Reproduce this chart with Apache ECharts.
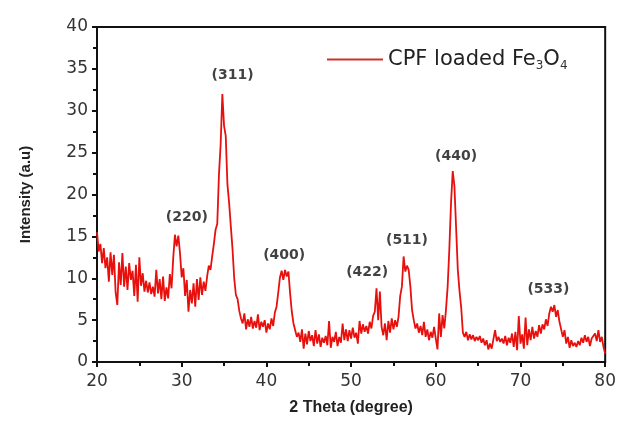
<!DOCTYPE html>
<html>
<head>
<meta charset="utf-8">
<title>XRD pattern - CPF loaded Fe3O4</title>
<script src="https://cdn.jsdelivr.net/npm/echarts@6/dist/echarts.min.js"></script>
<style>
  html, body { margin: 0; padding: 0; background: #fff; }
  #chart { width: 619px; height: 421px; }
</style>
</head>
<body>
<div id="chart"></div>
<script>
// XRD pattern: [2 theta, intensity]
const pattern = [
  [20.0, 15.5], [20.2, 13.2], [20.4, 14.1], [20.6, 11.8], [20.8, 13.6],
  [21.0, 11.2], [21.2, 12.5], [21.4, 9.6], [21.6, 13.1], [21.8, 10.4],
  [22.0, 12.8], [22.2, 8.3], [22.4, 6.8], [22.6, 11.9], [22.8, 9.2],
  [23.0, 13.0], [23.2, 9.0], [23.4, 11.4], [23.6, 8.6], [23.8, 11.8],
  [24.0, 9.8], [24.2, 10.9], [24.4, 7.9], [24.6, 11.6], [24.8, 7.2],
  [25.0, 12.5], [25.2, 9.1], [25.4, 10.6], [25.6, 8.4], [25.8, 9.7],
  [26.0, 8.3], [26.2, 9.5], [26.4, 8.1], [26.6, 9.0], [26.8, 7.8],
  [27.0, 11.0], [27.2, 8.2], [27.4, 9.9], [27.6, 7.5], [27.8, 10.2],
  [28.0, 7.3], [28.2, 8.9], [28.4, 7.6], [28.6, 10.5], [28.8, 8.8],
  [29.0, 12.4], [29.2, 15.2], [29.4, 13.8], [29.6, 15.1], [29.8, 13.0],
  [30.0, 10.1], [30.2, 11.2], [30.4, 7.9], [30.6, 9.8], [30.8, 6.0],
  [31.0, 8.6], [31.2, 7.0], [31.4, 9.4], [31.6, 6.6], [31.8, 9.9],
  [32.0, 7.4], [32.2, 10.1], [32.4, 8.0], [32.6, 9.6], [32.8, 8.5],
  [33.0, 10.2], [33.2, 11.5], [33.4, 11.0], [33.6, 12.6], [33.8, 14.1],
  [34.0, 15.8], [34.2, 16.5], [34.4, 22.4], [34.6, 26.0], [34.8, 32.0],
  [35.0, 28.2], [35.2, 27.0], [35.4, 21.2], [35.6, 19.0], [35.8, 16.2],
  [36.0, 13.5], [36.2, 10.0], [36.4, 8.0], [36.6, 7.5], [36.8, 6.1],
  [37.0, 5.2], [37.2, 4.6], [37.4, 5.8], [37.6, 3.9], [37.8, 5.1],
  [38.0, 4.2], [38.2, 5.4], [38.4, 4.0], [38.6, 4.9], [38.8, 4.1],
  [39.0, 5.7], [39.2, 3.8], [39.4, 4.8], [39.6, 4.2], [39.8, 5.0],
  [40.0, 3.5], [40.2, 4.6], [40.4, 3.9], [40.6, 5.2], [40.8, 4.3],
  [41.0, 5.9], [41.2, 6.6], [41.4, 8.3], [41.6, 10.1], [41.8, 10.9],
  [42.0, 9.8], [42.2, 11.0], [42.4, 10.2], [42.6, 10.8], [42.8, 8.2],
  [43.0, 6.0], [43.2, 4.6], [43.4, 3.8], [43.6, 3.0], [43.8, 3.5],
  [44.0, 2.4], [44.2, 3.9], [44.4, 1.6], [44.6, 3.4], [44.8, 2.1],
  [45.0, 3.7], [45.2, 2.5], [45.4, 3.2], [45.6, 1.9], [45.8, 3.8],
  [46.0, 2.2], [46.2, 3.3], [46.4, 1.8], [46.6, 2.9], [46.8, 2.3],
  [47.0, 3.1], [47.2, 2.0], [47.4, 4.9], [47.6, 1.7], [47.8, 3.0],
  [48.0, 2.4], [48.2, 3.6], [48.4, 1.9], [48.6, 3.0], [48.8, 2.3],
  [49.0, 4.6], [49.2, 2.6], [49.4, 3.9], [49.6, 2.5], [49.8, 3.8],
  [50.0, 2.8], [50.2, 4.1], [50.4, 2.9], [50.6, 3.5], [50.8, 2.2],
  [51.0, 4.9], [51.2, 3.4], [51.4, 4.5], [51.6, 3.6], [51.8, 4.3],
  [52.0, 3.4], [52.2, 4.8], [52.4, 4.0], [52.6, 5.5], [52.8, 6.0],
  [53.0, 8.8], [53.2, 5.0], [53.4, 8.4], [53.6, 4.2], [53.8, 3.2],
  [54.0, 4.6], [54.2, 2.6], [54.4, 4.9], [54.6, 3.5], [54.8, 5.2],
  [55.0, 3.9], [55.2, 5.0], [55.4, 4.2], [55.6, 5.4], [55.8, 7.9],
  [56.0, 9.0], [56.2, 12.6], [56.4, 10.8], [56.6, 11.5], [56.8, 11.0],
  [57.0, 9.0], [57.2, 6.2], [57.4, 5.0], [57.6, 4.0], [57.8, 4.6],
  [58.0, 3.5], [58.2, 4.3], [58.4, 3.2], [58.6, 4.8], [58.8, 3.0],
  [59.0, 3.9], [59.2, 2.6], [59.4, 3.6], [59.6, 2.9], [59.8, 4.2],
  [60.0, 2.8], [60.2, 1.5], [60.4, 5.8], [60.6, 3.0], [60.8, 5.6],
  [61.0, 4.0], [61.2, 6.2], [61.4, 9.0], [61.6, 13.5], [61.8, 19.0],
  [62.0, 22.8], [62.2, 21.0], [62.4, 16.0], [62.6, 11.0], [62.8, 8.5],
  [63.0, 6.5], [63.2, 3.5], [63.4, 3.0], [63.6, 3.6], [63.8, 2.6],
  [64.0, 3.3], [64.2, 2.7], [64.4, 3.2], [64.6, 2.5], [64.8, 3.0],
  [65.0, 2.6], [65.2, 3.1], [65.4, 2.3], [65.6, 2.8], [65.8, 2.0],
  [66.0, 2.6], [66.2, 1.5], [66.4, 2.2], [66.6, 1.6], [66.8, 2.7],
  [67.0, 3.8], [67.2, 2.5], [67.4, 3.0], [67.6, 2.4], [67.8, 2.8],
  [68.0, 2.2], [68.2, 3.1], [68.4, 2.0], [68.6, 2.9], [68.8, 2.3],
  [69.0, 3.4], [69.2, 1.8], [69.4, 3.6], [69.6, 1.4], [69.8, 5.5],
  [70.0, 2.2], [70.2, 3.3], [70.4, 1.6], [70.6, 5.3], [70.8, 2.0],
  [71.0, 3.9], [71.2, 2.6], [71.4, 4.2], [71.6, 2.8], [71.8, 3.7],
  [72.0, 3.0], [72.2, 4.4], [72.4, 3.4], [72.6, 4.5], [72.8, 3.9],
  [73.0, 5.1], [73.2, 4.3], [73.4, 5.8], [73.6, 6.6], [73.8, 6.0],
  [74.0, 6.8], [74.2, 5.4], [74.4, 6.2], [74.6, 4.8], [74.8, 4.6],
  [75.0, 3.0], [75.2, 3.8], [75.4, 2.2], [75.6, 3.0], [75.8, 1.7],
  [76.0, 2.6], [76.2, 1.9], [76.4, 2.3], [76.6, 1.8], [76.8, 2.5],
  [77.0, 2.0], [77.2, 2.9], [77.4, 2.3], [77.6, 3.2], [77.8, 2.4],
  [78.0, 3.0], [78.2, 1.9], [78.4, 2.8], [78.6, 2.6], [78.8, 3.4],
  [79.0, 2.5], [79.2, 3.8], [79.4, 2.4], [79.6, 3.0], [79.8, 1.8],
  [80.0, 1.0]
];

// Miller indices and where their labels sit (data coords)
const peakNames = ['(220)', '(311)', '(400)', '(422)', '(511)', '(440)', '(533)'];
const peakX = [30.6, 36.0, 42.1, 51.9, 56.6, 62.4, 73.3];
const peakY = [17.3, 34.2, 12.7, 10.7, 14.5, 24.6, 8.7];

const xTicks = [20, 30, 40, 50, 60, 70, 80];
const yTicks = [0, 5, 10, 15, 20, 25, 30, 35, 40];

const FONT = '"DejaVu Sans", "Liberation Sans", Arial, sans-serif';
const TITLE_FONT = '"Liberation Sans", Arial, sans-serif';
const RED = '#e8100c';

const chart = echarts.init(document.getElementById('chart'));

const option = {
  animation: false,
  backgroundColor: '#fff',
  // border of the grid gives the closed frame (top and right sides)
  grid: {
    left: 97, right: 12, top: 27, bottom: 58,
    show: true,
    borderColor: '#111',
    borderWidth: 2
  },
  legend: {
    left: 322,
    top: 44,
    icon: 'rect',
    itemWidth: 56,
    itemHeight: 2,
    itemGap: 8,
    data: ['CPF loaded Fe3O4'],
    formatter: () => 'CPF loaded Fe{sub|3}O{sub|4}',
    textStyle: {
      fontFamily: FONT,
      fontSize: 21,
      color: '#222',
      rich: {
        sub: { fontFamily: FONT, fontSize: 12, color: '#333', verticalAlign: 'bottom', padding: [13, 0, 0, 0] }
      }
    }
  },
  xAxis: {
    type: 'value',
    min: xTicks[0],
    max: xTicks[xTicks.length - 1],
    interval: 10,
    name: '2 Theta (degree)',
    nameLocation: 'middle',
    nameGap: 38,
    nameTextStyle: { fontFamily: TITLE_FONT, fontSize: 16, fontWeight: 'bold', color: '#222' },
    axisLine: { onZero: false, lineStyle: { color: '#111', width: 2 } },
    axisTick: { show: true, length: 5, lineStyle: { color: '#111', width: 2 } },
    minorTick: { show: true, splitNumber: 2, length: 4, lineStyle: { color: '#111', width: 2 } },
    axisLabel: { fontFamily: FONT, fontSize: 17, color: '#333', margin: 11 },
    splitLine: { show: false }
  },
  yAxis: {
    type: 'value',
    min: yTicks[0],
    max: yTicks[yTicks.length - 1],
    interval: 5,
    name: 'Intensity (a.u)',
    nameLocation: 'middle',
    nameGap: 64,
    nameTextStyle: { fontFamily: TITLE_FONT, fontSize: 15, fontWeight: 'bold', color: '#222' },
    axisLine: { onZero: false, lineStyle: { color: '#111', width: 2 } },
    axisTick: { show: true, length: 5, lineStyle: { color: '#111', width: 2 } },
    minorTick: { show: true, splitNumber: 2, length: 4, lineStyle: { color: '#111', width: 2 } },
    axisLabel: { fontFamily: FONT, fontSize: 17, color: '#333', margin: 9 },
    splitLine: { show: false }
  },
  series: [{
    name: 'CPF loaded Fe3O4',
    type: 'line',
    data: pattern,
    showSymbol: false,
    symbol: 'none',
    lineStyle: { color: RED, width: 1.8 },
    itemStyle: { color: '#d0302a' }
  }, {
    name: 'peaks',
    type: 'scatter',
    symbolSize: 0,
    silent: true,
    data: peakNames.map((n, i) => ({ name: n, value: [peakX[i], peakY[i]] })),
    label: {
      show: true,
      position: 'inside',
      formatter: p => p.name,
      fontFamily: FONT,
      fontSize: 14,
      fontWeight: 'bold',
      color: '#111'
    }
  }]
};

chart.setOption(option);
</script>
</body>
</html>
